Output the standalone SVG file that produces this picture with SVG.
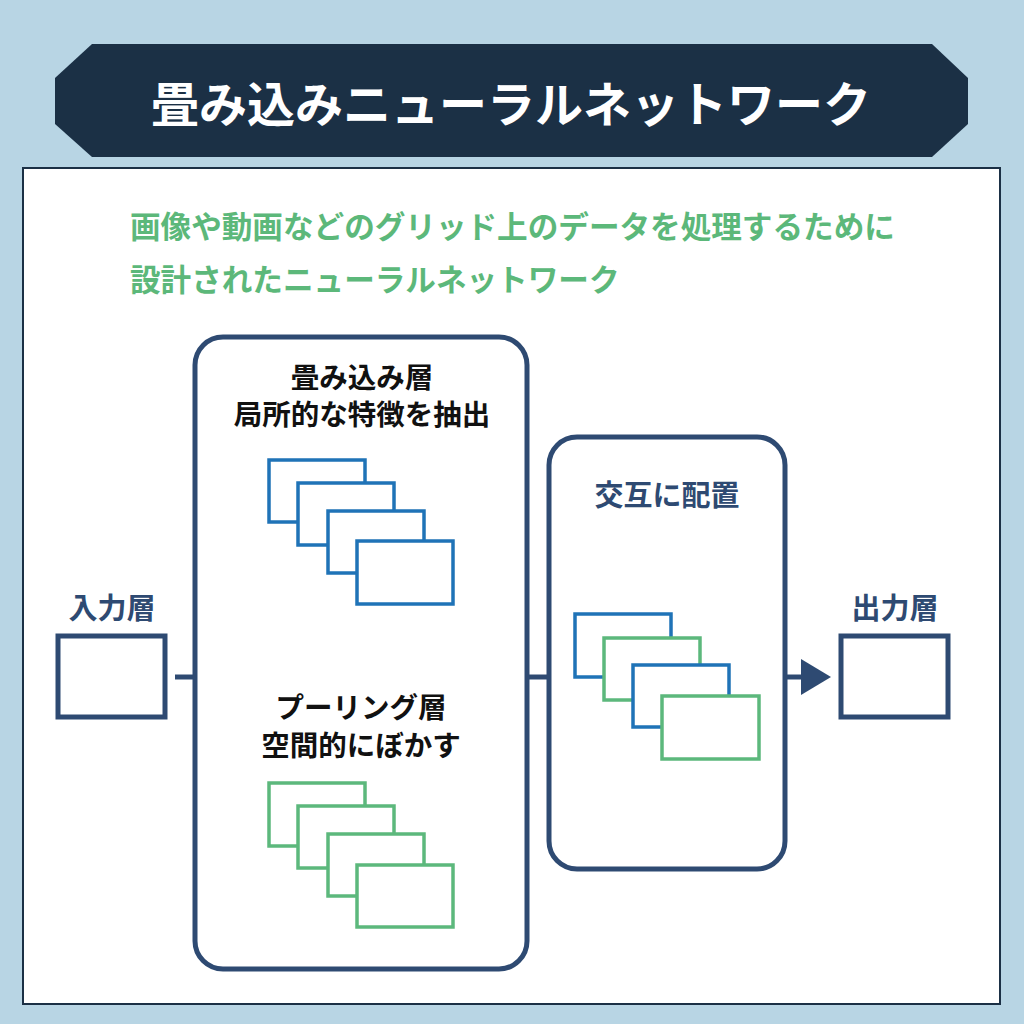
<svg xmlns="http://www.w3.org/2000/svg" width="1024" height="1024" viewBox="0 0 1024 1024">
<style>
text{font-family:"Noto Sans CJK JP","Noto Sans",sans-serif;font-weight:700;text-anchor:middle;dominant-baseline:central}
.nv{fill:none;stroke:#2e4a72;stroke-width:5}
.bl{fill:#fff;stroke:#1f73b7;stroke-width:3.5}
.gr{fill:#fff;stroke:#5cb87c;stroke-width:3.5}
.lbl{font-size:29px;fill:#2e4a72}
.blk{font-size:28.5px;fill:#111}
</style>
<rect width="1024" height="1024" fill="#b8d5e4"/>
<g id="title">
<polygon points="92,44 932,44 968,78 968,124 932,157 92,157 55,124 55,78" fill="#1b3045"/>
<text x="511" y="101" font-size="48" fill="#fff">畳み込みニューラルネットワーク</text>
</g>
<rect x="23" y="168" width="977" height="836" fill="#fff" stroke="#1b3045" stroke-width="2"/>
<g id="subtitle">
<text x="130" y="225" font-size="30.6" style="text-anchor:start" fill="#5cb87a">画像や動画などのグリッド上のデータを処理するために</text>
<text x="130" y="278" font-size="30.6" style="text-anchor:start" fill="#5cb87a">設計されたニューラルネットワーク</text>
</g>
<g id="connectors">
<line x1="175" y1="677" x2="193" y2="677" stroke="#2e4a72" stroke-width="5"/>
<line x1="528" y1="677" x2="548" y2="677" stroke="#2e4a72" stroke-width="5"/>
<line x1="786" y1="677" x2="803" y2="677" stroke="#2e4a72" stroke-width="5"/>
<polygon points="801,659 831,677 801,695" fill="#2e4a72"/>
</g>
<g id="input">
<text class="lbl" x="112" y="606">入力層</text>
<rect class="nv" x="58" y="636" width="107" height="81"/>
</g>
<g id="layers">
<rect class="nv" x="195" y="337" width="332" height="632" rx="28"/>
<text class="blk" x="362" y="375">畳み込み層</text>
<text class="blk" x="362" y="412">局所的な特徴を抽出</text>
<rect class="bl" x="269" y="460" width="96" height="62"/>
<rect class="bl" x="298" y="483" width="96" height="62"/>
<rect class="bl" x="328" y="511" width="96" height="62"/>
<rect class="bl" x="357" y="541" width="96" height="63"/>
<text class="blk" x="361" y="705">プーリング層</text>
<text class="blk" x="361" y="743">空間的にぼかす</text>
<rect class="gr" x="269" y="783" width="96" height="63"/>
<rect class="gr" x="298" y="806" width="96" height="62"/>
<rect class="gr" x="328" y="834" width="96" height="62"/>
<rect class="gr" x="357" y="865" width="96" height="62"/>
</g>
<g id="alternate">
<rect class="nv" x="549" y="437" width="236" height="432" rx="28"/>
<text class="lbl" x="667" y="493">交互に配置</text>
<rect class="bl" x="575" y="614" width="96" height="63"/>
<rect class="gr" x="604" y="638" width="96" height="62"/>
<rect class="bl" x="633" y="665" width="96" height="62"/>
<rect class="gr" x="662" y="696" width="97" height="63"/>
</g>
<g id="output">
<text class="lbl" x="895" y="606">出力層</text>
<rect class="nv" x="841" y="636" width="107" height="81"/>
</g>
</svg>
